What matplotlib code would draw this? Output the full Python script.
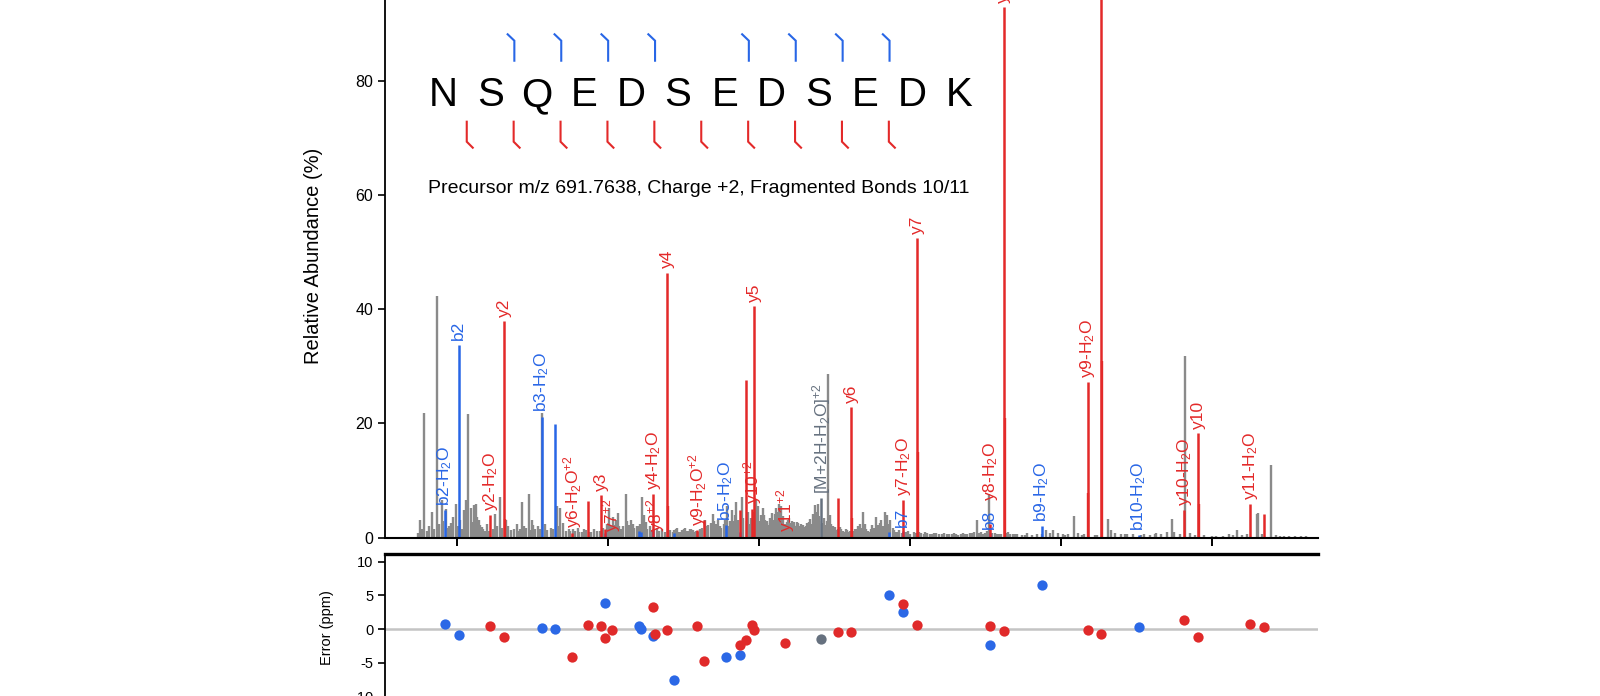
import re
import numpy as np
import matplotlib
matplotlib.use("Agg")
import matplotlib.pyplot as plt

plt.rcParams['font.family'] = ['Liberation Sans', 'DejaVu Sans']
plt.rcParams['mathtext.fontset'] = 'custom'
plt.rcParams['mathtext.rm'] = 'Liberation Sans'
plt.rcParams['mathtext.it'] = 'Liberation Sans:italic'
plt.rcParams['mathtext.bf'] = 'Liberation Sans:bold'
plt.rcParams['axes.unicode_minus'] = False

# ---------------- data ----------------
sequence = "NSQEDSEDSEDK"
precursor_text = "Precursor m/z 691.7638, Charge +2, Fragmented Bonds 10/11"

# unannotated peaks (grey)
grey_mz = [148, 151, 156.7, 160, 166.5, 170, 173.1, 179.7, 185.5, 190,
           195.1, 198.7, 206, 209.7, 212, 215, 218.5, 222.5, 225.5, 229,
           233, 237, 240, 247, 250.3, 257, 265, 268, 272, 279,
           283, 286.5, 291, 295.4, 299, 303, 307, 313.1, 319, 324,
           332, 336.4, 340, 344, 348, 356, 360, 365, 368, 378,
           382, 386, 401.8, 408, 410, 413.7, 417, 420, 423.4, 427,
           431, 435, 438, 445.5, 447.5, 450, 455, 465, 468, 472,
           482, 486, 490, 494, 498, 502, 506, 510, 514, 522,
           528.5, 533, 539.5, 543, 546, 550, 553, 557.5, 560, 563.8,
           566, 569.5, 577, 579, 586, 596, 599, 602, 605, 608,
           611, 614, 616.8, 620, 623, 626, 629, 632, 638, 641,
           644, 647, 650, 653, 656, 660, 664, 668, 671, 674.2,
           677.5, 680, 686, 688, 691.2, 694, 698, 700, 707, 711,
           715, 719, 727, 731, 738.2, 742, 746, 750, 755, 758,
           762, 767, 769, 774, 777, 781, 786, 795, 800, 805,
           815, 820, 826, 832, 838, 845, 852, 858, 864, 870,
           876, 882, 888.3, 894, 899, 904.5, 912, 918, 930, 936,
           942, 948, 955, 962, 968, 980, 985, 990, 996, 1002,
           1009, 1017.2, 1022, 1028, 1045, 1061.8, 1066, 1072, 1080, 1088,
           1096, 1110, 1118, 1126, 1133, 1140, 1146.6, 1150, 1164.4, 1171,
           1190, 1200, 1215, 1222, 1232.6, 1240, 1259.2, 1260.5, 1278.7, 1285,
           1295, 1310, 1325]
grey_int = [0.8, 3.1, 21.8, 1.2, 4.6, 1.5, 42.3, 6.6, 5.0, 2.0,
            3.7, 5.9, 1.5, 4.9, 6.6, 21.6, 5.3, 5.7, 5.9, 3.1,
            1.9, 1.2, 2.4, 1.5, 4.1, 7.2, 3.1, 2.1, 1.4, 2.5,
            1.6, 6.3, 1.8, 7.6, 3.1, 1.5, 2.0, 21.9, 1.3, 1.8,
            5.6, 5.2, 2.6, 1.2, 1.6, 1.2, 1.8, 1.1, 1.5, 1.0,
            1.6, 1.2, 5.2, 2.2, 3.1, 4.4, 1.6, 2.0, 7.6, 2.3,
            3.1, 1.8, 2.1, 7.1, 4.0, 2.8, 2.0, 1.8, 1.2, 1.5,
            1.4, 1.0, 1.6, 1.1, 1.3, 1.7, 1.2, 1.5, 1.0, 1.5,
            3.1, 2.2, 4.1, 2.5, 3.1, 1.8, 2.5, 5.5, 2.0, 4.9,
            3.0, 6.3, 7.2, 3.5, 4.6, 6.6, 5.6, 4.0, 5.3, 3.1,
            2.6, 3.5, 4.3, 3.0, 5.3, 6.0, 5.6, 3.8, 3.2, 2.6,
            3.0, 2.2, 2.8, 2.0, 2.4, 1.9, 2.6, 3.3, 4.2, 5.7,
            6.0, 3.0, 3.4, 2.2, 28.6, 4.0, 2.0, 1.9, 1.9, 1.2,
            1.6, 1.0, 1.5, 2.0, 4.6, 1.5, 1.0, 2.2, 3.7, 1.4,
            3.1, 4.6, 4.0, 3.1, 1.8, 1.0, 1.4, 1.0, 0.7, 1.0,
            0.8, 1.1, 0.7, 0.9, 0.6, 0.9, 0.6, 0.8, 0.5, 0.8,
            0.6, 0.9, 3.2, 1.0, 0.8, 7.6, 0.8, 0.6, 1.0, 0.7,
            0.6, 0.5, 0.8, 0.5, 0.6, 1.3, 0.9, 1.3, 0.8, 0.6,
            0.7, 3.8, 0.8, 0.5, 0.5, 3.3, 1.3, 0.8, 0.6, 0.7,
            0.6, 0.7, 0.5, 0.8, 0.6, 1.0, 3.3, 1.0, 31.8, 0.8,
            0.5, 0.4, 0.4, 0.6, 1.3, 0.5, 4.1, 4.3, 12.8, 0.5,
            0.4, 0.3, 0.3]

# low baseline peaks between the larger ones (grey)
carpet_mz = [153, 163, 176, 182, 188, 192, 201, 203.5, 220, 227,
             231, 235, 243, 253, 260, 276, 281, 289, 297, 301,
             310, 316, 327, 334, 350, 354, 362, 371, 375, 389,
             393, 398, 404, 406, 415, 425, 429, 433, 441, 443,
             452, 458, 476, 480, 488, 492, 496, 500, 504, 508,
             512, 516, 519, 525, 530, 536, 541, 548, 555, 562,
             568, 572, 584, 588, 590, 594, 597, 601, 604, 607,
             610, 613, 618, 621, 625, 628, 631, 635, 637, 640,
             643, 646, 649, 652, 655, 658, 662, 666, 670, 673,
             676, 679, 683, 685, 690, 696, 703, 705, 709, 713,
             717, 721, 725, 729, 734, 736, 740, 744, 748, 752,
             757, 760, 764, 771, 779, 784, 790, 797, 808, 812,
             818, 823, 829, 835, 842, 849, 855, 861, 867, 873,
             879, 885, 891, 897, 902, 909, 915, 921, 927, 933,
             939, 952, 975, 1005, 1031, 1048, 1085, 1106, 1125, 1158,
             1178, 1205, 1228, 1246, 1266, 1290, 1302, 1318]
carpet_int = [1.5, 2.0, 2.5, 3.0, 1.8, 2.6, 2.0, 3.2, 2.8, 3.6,
              2.2, 1.6, 1.2, 2.0, 1.8, 1.5, 1.2, 2.0, 1.4, 2.2,
              1.6, 2.4, 1.5, 2.0, 1.2, 1.5, 1.0, 1.3, 1.0, 1.2,
              1.8, 2.4, 2.0, 3.6, 2.0, 3.0, 2.2, 2.4, 2.0, 2.5,
              1.6, 1.3, 1.0, 1.2, 1.4, 1.8, 1.0, 1.5, 1.2, 1.6,
              1.4, 1.2, 1.0, 1.8, 2.0, 2.6, 3.0, 2.0, 3.2, 3.0,
              4.0, 3.2, 3.0, 2.5, 3.4, 4.5, 4.2, 3.0, 3.6, 4.0,
              3.0, 2.2, 3.2, 4.2, 4.6, 3.4, 2.8, 2.4, 2.8, 3.4,
              2.4, 2.8, 2.0, 2.6, 1.8, 2.2, 2.0, 2.8, 2.5, 3.6,
              4.6, 3.8, 2.5, 2.6, 3.0, 2.4, 1.4, 1.6, 1.5, 1.1,
              1.3, 1.2, 1.2, 1.6, 2.4, 1.8, 2.5, 1.2, 1.6, 1.8,
              2.2, 2.6, 2.0, 2.5, 1.4, 1.0, 0.8, 1.2, 0.8, 1.0,
              0.7, 0.8, 0.6, 0.8, 0.7, 0.6, 0.7, 0.6, 0.6, 0.7,
              0.8, 1.0, 0.9, 0.6, 1.2, 0.9, 0.7, 0.6, 0.8, 0.6,
              0.7, 0.5, 0.6, 0.5, 0.6, 0.5, 0.6, 0.5, 0.6, 0.7,
              0.5, 0.4, 0.5, 0.6, 0.6, 0.4, 0.3, 0.3]

# b ions (blue)
b_names = ["b2-H2O", "b2", "b3-H2O", "b3", "b7+2", "b4-H2O", "b8-H2O+2", "b4",
           "b9-H2O+2", "b5-H2O", "b5", "b7-H2O", "b7", "b8", "b9-H2O", "b10-H2O"]
b_mz = [184.07, 202.08, 312.13, 330.14, 395.65, 441.17, 444.15, 459.18,
        487.67, 556.20, 574.21, 772.27, 790.29, 905.31, 974.33, 1103.38]
b_int = [4.9, 33.8, 21.2, 19.9, 0.8, 1.2, 1.0, 1.5,
         0.8, 2.2, 1.0, 1.0, 1.2, 0.8, 2.0, 0.5]
b_err = [0.8, -0.9, 0.2, 0.0, 3.9, 0.5, 0.0, -1.0,
         -7.6, -4.2, -3.8, 5.0, 2.6, -2.35, 6.6, 0.35]
b_shown = [1, 1, 1, 0, 0, 0, 0, 0,
           0, 1, 0, 0, 1, 1, 1, 1]

# y ions (red)
y_names = ["y2-H2O", "y2", "y6-H2O+2", "y3-H2O", "y3", "y7-H2O+2", "y7+2", "y4-H2O",
           "y8+2", "y4", "y9-H2O+2", "y9+2", "y5-H2O", "y10-H2O+2", "y10+2", "y5",
           "y11+2", "y6-H2O", "y6", "y7-H2O", "y7", "y8-H2O", "y8", "y9-H2O",
           "y9", "y10-H2O", "y10", "y11-H2O", "y11"]
y_mz = [244.13, 262.14, 352.64, 373.17, 391.18, 396.16, 405.16, 460.20,
        462.67, 478.21, 518.19, 527.20, 575.23, 582.22, 591.23, 593.24,
        634.74, 704.27, 722.28, 791.31, 809.32, 906.33, 924.34, 1035.37,
        1053.39, 1163.43, 1181.44, 1250.47, 1268.48]
y_int = [4.0, 37.9, 0.9, 6.4, 7.5, 1.5, 0.2, 7.6,
         0.2, 46.4, 1.3, 3.1, 4.9, 27.6, 5.1, 40.6,
         0.2, 6.9, 22.9, 6.6, 52.5, 2.5, 92.8, 27.3,
         100.0, 4.9, 18.3, 5.9, 4.1]
y_err = [0.4, -1.1, -4.1, 0.6, 0.45, -1.35, -0.15, 3.3,
         -0.75, -0.2, 0.4, -4.7, -2.35, -1.6, 0.6, -0.1,
         -2.0, -0.45, -0.4, 3.7, 0.6, 0.5, -0.35, -0.2,
         -0.65, 1.35, -1.2, 0.8, 0.25]
y_shown = [1, 1, 1, 0, 1, 0, 1, 1,
           1, 1, 1, 0, 0, 0, 1, 1,
           1, 0, 1, 1, 1, 1, 1, 1,
           1, 1, 1, 1, 0]

# isotope peaks of matched y ions (red, no label)
iso_mz = [263.14, 479.21, 723.28, 810.32, 925.34, 1036.37, 1054.39, 1182.44]
iso_int = [3.3, 5.6, 3.4, 15.0, 21.0, 7.8, 30.9, 6.0]

# precursor-related ion
prec_names = ["[M+2H-H2O]+2"]
prec_mz = [682.76]
prec_int = [6.9]
prec_err = [-1.5]

# ---------------- style ----------------
RED = '#e32929'
BLUE = '#2866e6'
GREY = '#8a8a8a'
SLATE = '#66717f'
DOT_RED = '#e02a2a'
DOT_BLUE = '#2b68e6'
label_lift = {"y8-H2O": 13}     # extra points where a label sits above its neighbour


def fmt(name):
    s = name.replace("H2O", "H$_2$O")
    if s.endswith("+2"):
        s = s[:-2] + "$^{+2}$"
    return s


fig = plt.figure(figsize=(16, 6.96), dpi=100)
W, H = 1600, 696

# main spectrum panel
ax = fig.add_axes([385 / W, (H - 537.8) / H, 933 / W, 537.8 / H])
ax.set_xlim(104.6, 1340.4)
ax.set_ylim(0, 94.1)

ax.vlines(carpet_mz, 0, carpet_int, color=GREY, lw=1.7, zorder=1)
ax.vlines(grey_mz, 0, grey_int, color=GREY, lw=1.7, zorder=1)
ax.vlines(iso_mz, 0, iso_int, color=RED, lw=1.7, zorder=2)
ax.vlines(b_mz, 0, b_int, color=BLUE, lw=1.8, zorder=2)
ax.vlines(y_mz, 0, y_int, color=RED, lw=1.8, zorder=2)
ax.vlines(prec_mz, 0, prec_int, color=SLATE, lw=1.8, zorder=2)

label_sets = [(b_names, b_mz, b_int, b_shown, BLUE),
              (y_names, y_mz, y_int, y_shown, RED),
              (prec_names, prec_mz, prec_int, [1], SLATE)]
for names, mzs, ints, shown, col in label_sets:
    for n, m, h, s in zip(names, mzs, ints, shown):
        if s:
            ax.annotate(fmt(n), (m, h), xytext=(0, 3 + label_lift.get(n, 0)),
                        textcoords='offset points',
                        rotation=90, ha='center', va='bottom', color=col,
                        fontsize=12.5, annotation_clip=False)

for side in ['top', 'right']:
    ax.spines[side].set_visible(False)
ax.spines['left'].set_linewidth(1.3)
ax.spines['bottom'].set_linewidth(1.5)
ax.set_xticks(range(200, 1201, 200))
ax.set_xticklabels([])
ax.set_yticks([0, 20, 40, 60, 80])
ax.tick_params(axis='x', direction='out', length=6, width=1.4)
ax.tick_params(axis='y', direction='out', length=5, width=1.2, labelsize=11.5)
ax.text(-0.0761, 0.524, "Relative Abundance (%)", transform=ax.transAxes,
        rotation=90, ha='center', va='center', fontsize=14.5)

# sequence with fragment markers (positions in axes fraction)
ax_h = 537.8
x0, dx = (443.3 - 385) / 933, 46.9 / 933
for i, aa in enumerate(sequence):
    ax.text(x0 + i * dx, (ax_h - 106) / ax_h, aa, transform=ax.transAxes,
            ha='center', va='baseline', fontsize=29)

b_bonds = sorted({int(re.match(r'b(\d+)', n).group(1)) for n in b_names})
y_bonds = sorted({len(sequence) - int(re.match(r'y(\d+)', n).group(1)) for n in y_names})
for k in b_bonds:
    xm = x0 + (k - 0.5) * dx + 0.7 / 933
    ax.plot([xm - 6.7 / 933, xm, xm],
            [(ax_h - 34.3) / ax_h, (ax_h - 40.7) / ax_h, (ax_h - 60.7) / ax_h],
            transform=ax.transAxes, color=BLUE, lw=1.5, clip_on=False,
            solid_joinstyle='miter')
for k in y_bonds:
    xm = x0 + (k - 0.5) * dx
    ax.plot([xm, xm, xm + 6.0 / 933],
            [(ax_h - 121.7) / ax_h, (ax_h - 141.7) / ax_h, (ax_h - 147.7) / ax_h],
            transform=ax.transAxes, color=RED, lw=1.5, clip_on=False,
            solid_joinstyle='miter')

ax.text((699 - 385) / 933, (ax_h - 193.3) / ax_h, precursor_text,
        transform=ax.transAxes, ha='center', va='baseline', fontsize=14)

# error panel
ex = fig.add_axes([385 / W, -14.2 / H, 933 / W, 156.1 / H])
ex.set_xlim(104.6, 1340.4)
ex.set_ylim(-12, 11.1)
ex.axhline(0, color='#c4c4c4', lw=1.8, zorder=1)
ex.scatter(b_mz, b_err, s=55, color=DOT_BLUE, zorder=3, linewidths=0)
ex.scatter(y_mz, y_err, s=55, color=DOT_RED, zorder=3, linewidths=0)
ex.scatter(prec_mz, prec_err, s=55, color=SLATE, zorder=3, linewidths=0)
ex.spines['right'].set_visible(False)
ex.spines['top'].set_linewidth(2.4)
ex.spines['left'].set_linewidth(1.3)
ex.set_yticks([-10, -5, 0, 5, 10])
ex.set_xticks(range(200, 1201, 200))
ex.tick_params(axis='y', direction='out', length=5, width=1.2, labelsize=10.5)
ex.tick_params(axis='x', direction='out', length=6, width=1.4)
ex.text(-0.0627, 0.5266, "Error (ppm)", transform=ex.transAxes,
        rotation=90, ha='center', va='center', fontsize=10.5)

fig.savefig("out.png", dpi=100)
